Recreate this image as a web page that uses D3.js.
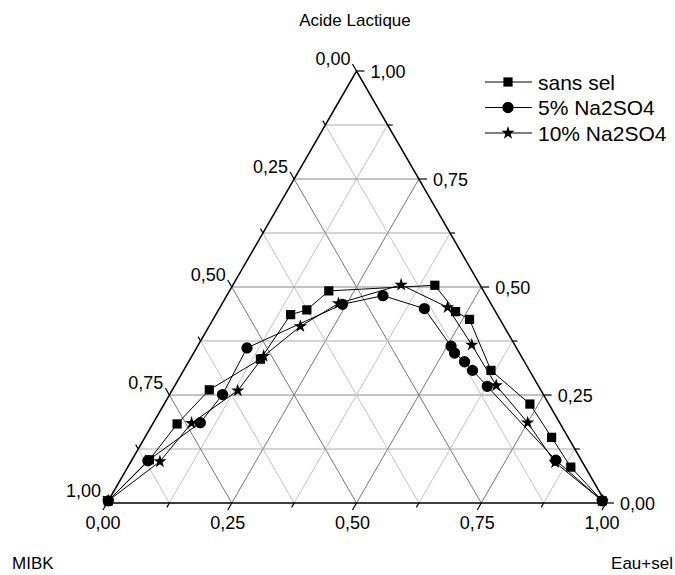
<!DOCTYPE html>
<html>
<head>
<meta charset="utf-8">
<script src="https://cdn.jsdelivr.net/npm/d3@7"></script>
<style>
  body { margin: 0; background: #fff; }
  svg { font-family: Arial, "Liberation Sans", sans-serif; }
</style>
</head>
<body>
<div id="chart"></div>
<script>
// ternary compositions: [acide, eau+sel], MIBK = rest
const sansSel = [
  [0.005, 0.000], [0.100, 0.035], [0.183, 0.049], [0.262, 0.074], [0.333, 0.141],
  [0.436, 0.150], [0.447, 0.177], [0.491, 0.199], [0.504, 0.405], [0.443, 0.477],
  [0.425, 0.514], [0.307, 0.616], [0.229, 0.733], [0.152, 0.815], [0.083, 0.888],
  [0.005, 0.990]
]
const na2so4_5 = [
  [0.005, 0.000], [0.098, 0.033], [0.186, 0.094], [0.251, 0.106], [0.359, 0.101],
  [0.460, 0.242], [0.480, 0.313], [0.450, 0.411], [0.363, 0.508], [0.347, 0.523],
  [0.327, 0.553], [0.307, 0.579], [0.270, 0.627], [0.099, 0.850], [0.005, 0.990]
]
const na2so4_10 = [
  [0.005, 0.000], [0.096, 0.058], [0.185, 0.077], [0.260, 0.132], [0.340, 0.144],
  [0.409, 0.183], [0.462, 0.233], [0.505, 0.337], [0.453, 0.456], [0.366, 0.548],
  [0.272, 0.644], [0.186, 0.750], [0.094, 0.851], [0.005, 0.990]
]
const seriesNames = ['sans sel', '5% Na2SO4', '10% Na2SO4']
const tickValues = [0, 0.125, 0.25, 0.375, 0.5, 0.625, 0.75, 0.875, 1]
const axisTitles = { top: 'Acide Lactique', left: 'MIBK', right: 'Eau+sel' }

const width = 675, height = 575
const x = d3.scaleLinear().domain([0, 1]).range([107, 606])
const y = d3.scaleLinear().domain([0, 1]).range([503, 71])
const fmt = v => d3.format('.2f')(v).replace('.', ',')

// position from (acide, eau)
const px = (a, e) => [x(e + a / 2), y(a)]

const svg = d3.select('#chart').append('svg')
  .attr('width', width)
  .attr('height', height)

const grid = svg.append('g').attr('fill', 'none')
tickValues.slice(1, -1).forEach((k, i) => {
  const major = i % 2 === 1
  // iso acide
  grid.append('line')
    .attr('x1', px(k, 0)[0]).attr('y1', px(k, 0)[1])
    .attr('x2', px(k, 1 - k)[0]).attr('y2', px(k, 1 - k)[1])
    .attr('stroke', major ? '#888' : '#aaa').attr('stroke-width', 1)
  // iso eau
  grid.append('line')
    .attr('x1', px(0, k)[0]).attr('y1', px(0, k)[1])
    .attr('x2', px(1 - k, k)[0]).attr('y2', px(1 - k, k)[1])
    .attr('stroke', major ? '#777' : '#c4c4c4').attr('stroke-width', 1)
  // iso MIBK
  grid.append('line')
    .attr('x1', px(0, 1 - k)[0]).attr('y1', px(0, 1 - k)[1])
    .attr('x2', px(1 - k, 0)[0]).attr('y2', px(1 - k, 0)[1])
    .attr('stroke', major ? '#777' : '#c4c4c4').attr('stroke-width', 1)
})

// frame
svg.append('path')
  .attr('d', d3.line()([px(0, 0), px(0, 1), px(1, 0)]) + 'Z')
  .attr('fill', 'none')
  .attr('stroke', '#000')
  .attr('stroke-width', 1.5)

// ticks
const axes = svg.append('g').attr('stroke', '#000').attr('stroke-width', 1.2)
const labels = svg.append('g').attr('font-size', 18).attr('fill', '#000')
const c60 = 0.5, s60 = Math.sqrt(3) / 2
tickValues.forEach((t, i) => {
  const major = i % 2 === 0
  const L = major ? 8 : 5
  // left axis: MIBK, 0 at top
  let p = px(1 - t, 0)
  let q = [p[0] - c60 * L, p[1] - s60 * L]
  axes.append('line').attr('x1', p[0]).attr('y1', p[1]).attr('x2', q[0]).attr('y2', q[1])
  if (major) {
    labels.append('text').attr('x', q[0] - 2).attr('y', q[1] + 1)
      .attr('text-anchor', 'end').text(fmt(t))
  }
  // right axis: acide, 0 at bottom-right
  p = px(t, 1 - t)
  q = [p[0] + L, p[1]]
  axes.append('line').attr('x1', p[0]).attr('y1', p[1]).attr('x2', q[0]).attr('y2', q[1])
  if (major) {
    labels.append('text').attr('x', q[0] + 6).attr('y', p[1] + 6.5).text(fmt(t))
  }
  // bottom axis: eau+sel, 0 at left
  p = px(0, t)
  q = [p[0] - c60 * L, p[1] + s60 * L]
  axes.append('line').attr('x1', p[0]).attr('y1', p[1]).attr('x2', q[0]).attr('y2', q[1])
  if (major) {
    labels.append('text').attr('x', q[0]).attr('y', q[1] + 19)
      .attr('text-anchor', 'middle').text(fmt(t))
  }
})

// axis titles
svg.append('text').attr('x', 355).attr('y', 26).attr('text-anchor', 'middle')
  .attr('font-size', 17).text(axisTitles.top)
svg.append('text').attr('x', 12).attr('y', 569)
  .attr('font-size', 17).text(axisTitles.left)
svg.append('text').attr('x', 673).attr('y', 569).attr('text-anchor', 'end')
  .attr('font-size', 17).text(axisTitles.right)

// series
const symbols = [
  d3.symbol().type(d3.symbolSquare).size(85),
  d3.symbol().type(d3.symbolCircle).size(100),
  d3.symbol().type(d3.symbolStar).size(55)
]
const allSeries = [sansSel, na2so4_5, na2so4_10]
const line = d3.line().x(d => px(d[0], d[1])[0]).y(d => px(d[0], d[1])[1])

allSeries.forEach((data, s) => {
  const g = svg.append('g')
  g.append('path')
    .datum(data)
    .attr('d', line)
    .attr('fill', 'none')
    .attr('stroke', '#000')
    .attr('stroke-width', 1)
  g.selectAll('path.pt')
    .data(data)
    .join('path')
    .attr('class', 'pt')
    .attr('transform', d => `translate(${px(d[0], d[1])})`)
    .attr('d', symbols[s])
    .attr('fill', '#000')
})

// legend
const legend = svg.append('g').attr('font-size', 21)
seriesNames.forEach((name, i) => {
  const ly = 82 + i * 25.5
  legend.append('line').attr('x1', 485).attr('x2', 532).attr('y1', ly).attr('y2', ly)
    .attr('stroke', '#000').attr('stroke-width', 1)
  legend.append('path').attr('transform', `translate(508,${ly})`)
    .attr('d', symbols[i]).attr('fill', '#000')
  legend.append('text').attr('x', 538).attr('y', ly + 7.5).text(name)
})
</script>
</body>
</html>
